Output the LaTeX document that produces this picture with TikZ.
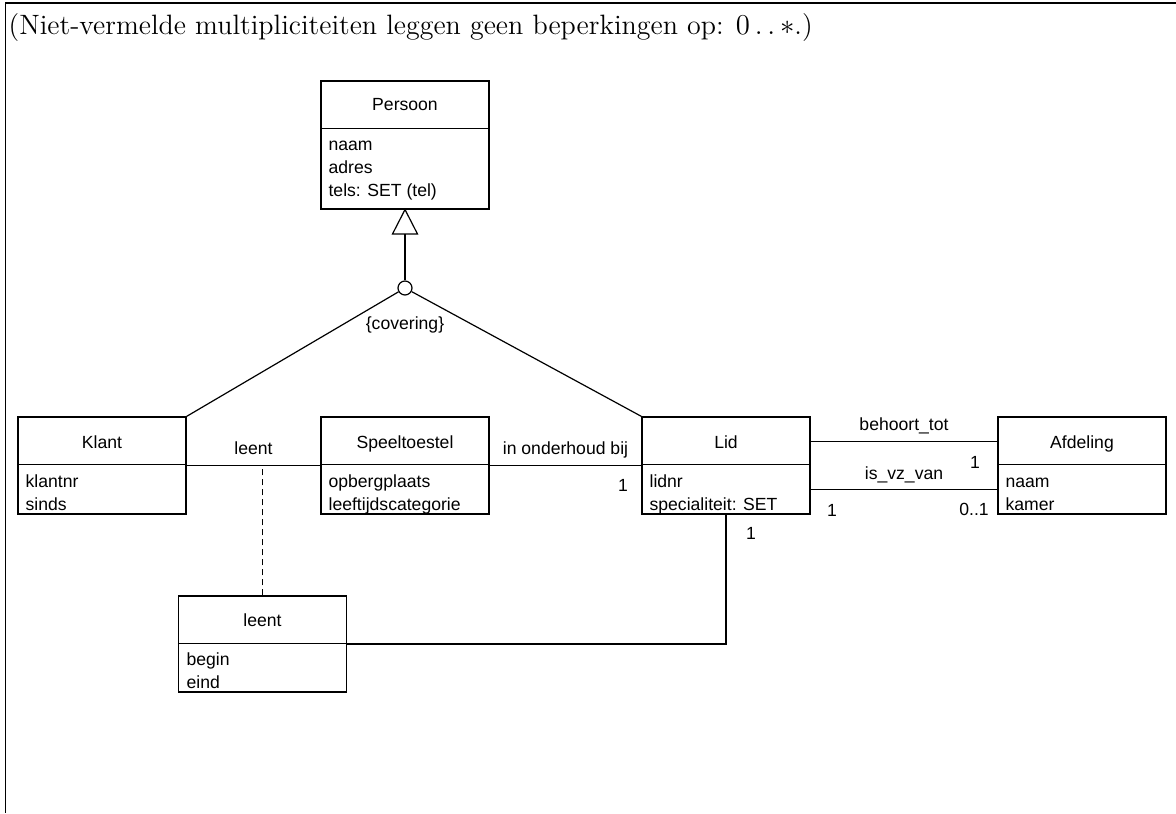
\documentclass[tikz,border=0pt]{standalone}
\usepackage{fontspec}
\newfontfamily\umlfont{Liberation Sans}
\usetikzlibrary{positioning}

\begin{document}
\begin{tikzpicture}[
  x=0.5pt, y=-0.5pt, line width=0.6pt,
  klasse/.style={draw, minimum width=84pt, minimum height=48.5pt, inner sep=0pt},
  titel/.style={font=\umlfont\fontsize{8.8}{10.5}\selectfont, anchor=base, inner sep=0pt},
  attr/.style={font=\umlfont\fontsize{8.8}{10.5}\selectfont, anchor=base west, inner sep=0pt},
  rol/.style={font=\umlfont\fontsize{8.8}{10.5}\selectfont, anchor=base, inner sep=0pt},
  mult/.style={font=\umlfont\fontsize{8.8}{10.5}\selectfont, anchor=base, inner sep=0pt}
]
\useasboundingbox (0,0) rectangle (1176,813);

% frame and remark
\draw[line width=0.7pt] (1176,3) -| (5.5,813);
\node[anchor=base west, inner sep=0pt, font=\fontsize{14}{17}\selectfont] (opmerking) at (8,35)
  {(Niet-vermelde multipliciteiten leggen geen beperkingen op: $0\mathinner{\ldotp\ldotp}*$.)};

% classes
\node[klasse, minimum height=64pt] (persoon) at (405,145) {};
\node[titel] (persoonT) at (405,111) {Persoon};
\draw ([yshift=-24pt]persoon.north west) -- ([yshift=-24pt]persoon.north east);
\node[attr] (persoonA1) at (328,150) {naam};
\node[attr] (persoonA2) at (328,173) {adres};
\node[attr] (persoonA3) at (328,196) {tels: SET (tel)};

\node[klasse] (klant) at (102,465.5) {};
\node[titel] (klantT) at (102,448) {Klant};
\draw ([yshift=-24pt]klant.north west) -- ([yshift=-24pt]klant.north east);
\node[attr] (klantA1) at (25,487) {klantnr};
\node[attr] (klantA2) at (25,510) {sinds};

\node[klasse] (speel) at (405,465.5) {};
\node[titel] (speelT) at (405,448) {Speeltoestel};
\draw ([yshift=-24pt]speel.north west) -- ([yshift=-24pt]speel.north east);
\node[attr] (speelA1) at (328,487) {opbergplaats};
\node[attr] (speelA2) at (328,510) {leeftijdscategorie};

\node[klasse] (lid) at (726,465.5) {};
\node[titel] (lidT) at (726,448) {Lid};
\draw ([yshift=-24pt]lid.north west) -- ([yshift=-24pt]lid.north east);
\node[attr] (lidA1) at (649,487) {lidnr};
\node[attr] (lidA2) at (649,510) {specialiteit: SET};

\node[klasse] (afd) at (1082,465.5) {};
\node[titel] (afdT) at (1082,448) {Afdeling};
\draw ([yshift=-24pt]afd.north west) -- ([yshift=-24pt]afd.north east);
\node[attr] (afdA1) at (1005,487) {naam};
\node[attr] (afdA2) at (1005,510) {kamer};

\node[klasse, minimum height=48pt] (leent) at (262.5,644) {};
\node[titel] (leentT) at (262.5,626) {leent};
\draw ([yshift=-24pt]leent.north west) -- ([yshift=-24pt]leent.north east);
\node[attr] (leentA1) at (186,665) {begin};
\node[attr] (leentA2) at (186,688) {eind};

% generalisation (covering)
\node[circle, draw, fill=white, minimum size=7pt, inner sep=0pt] (gen) at (405,288) {};
\coordinate (driehoek) at (405,234);
\draw (persoon.south) -- ([xshift=-6.25pt]driehoek) -- ([xshift=6.25pt]driehoek) -- cycle;
\draw (driehoek) -- (gen);
\draw (gen) -- (klant.north east);
\draw (gen) -- (lid.north west);
\node[rol] (covering) at (405,329) {\{covering\}};

% associations
\draw (klant.east) -- node[rol, yshift=5.5pt] (leentL) {leent} (speel.west);
\draw[dashed, dash pattern=on 3pt off 2pt] (leent.north) -- (leent.north |- klant.east);
\draw (speel.east) -- node[rol, yshift=5.5pt] (onderhoudL) {in onderhoud bij} (lid.west);
\draw ([yshift=12pt]lid.east) -- node[rol, yshift=5.5pt] (behoortL) {behoort\_tot} ([yshift=12pt]afd.west);
\draw ([yshift=-12pt]lid.east) -- node[rol, yshift=5pt] (vzL) {is\_vz\_van} ([yshift=-12pt]afd.west);
\draw (leent.east) -| (lid.south);

% multiplicities
\node[mult] (m1) at (623,491) {1};
\node[mult] (m2) at (975,468) {1};
\node[mult] (m3) at (832,516) {1};
\node[mult] (m4) at (974,515) {0..1};
\node[mult] (m5) at (751,539) {1};

\end{tikzpicture}
\end{document}
